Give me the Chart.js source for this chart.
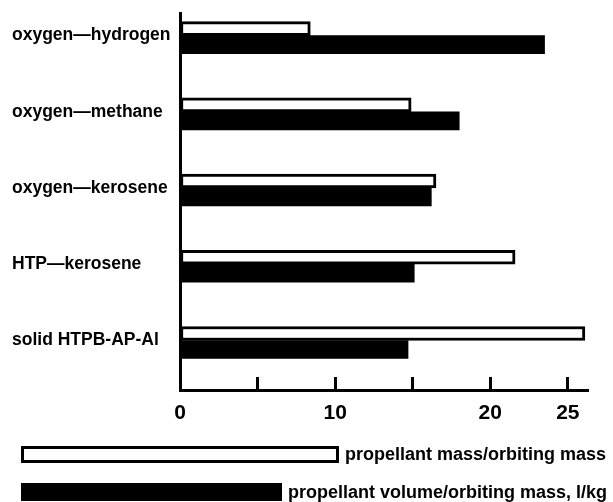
<!DOCTYPE html>
<html>
<head>
<meta charset="utf-8">
<script src="https://cdn.jsdelivr.net/npm/chart.js@4"></script>
<style>
  html, body { margin: 0; padding: 0; background: #fff; }
  #wrap { position: relative; width: 613px; height: 502px; }
  #chart { position: absolute; left: 0; top: 0; }
  .legend-item {
    position: absolute;
    display: flex;
    align-items: center;
    font: bold 18px "Liberation Sans", Arial, sans-serif;
    color: #000;
    white-space: nowrap;
  }
  .legend-box { box-sizing: border-box; border: 3px solid #000; margin-right: 6px; }
</style>
</head>
<body>
<div id="wrap">
  <canvas id="chart" width="613" height="502"></canvas>
  <div id="legend"></div>
</div>
<script>
const categories = [
  "oxygen\u2014hydrogen",
  "oxygen\u2014methane",
  "oxygen\u2014kerosene",
  "HTP\u2014kerosene",
  "solid HTPB-AP-Al"
];
const massRatio = [8.4, 14.9, 16.5, 21.6, 26.1];
const volumeRatio = [23.5, 18.0, 16.2, 15.1, 14.7];
const xTickLabels = ["0", "10", "20", "25"];
const seriesNames = ["propellant mass/orbiting mass", "propellant volume/orbiting mass, l/kg"];

const FONT = '"Liberation Sans", Arial, sans-serif';

const chart = new Chart(document.getElementById("chart"), {
  type: "bar",
  data: {
    datasets: [
      {
        label: seriesNames[0],
        data: massRatio.map((v, i) => ({ x: v, y: i })),
        backgroundColor: "#fff",
        borderColor: "#000",
        borderWidth: 3,
        borderSkipped: false,
        barThickness: 14
      },
      {
        label: seriesNames[1],
        data: volumeRatio.map((v, i) => ({ x: v, y: i })),
        backgroundColor: "#000",
        borderWidth: 0,
        barThickness: 18
      }
    ]
  },
  options: {
    indexAxis: "y",
    responsive: false,
    animation: false,
    layout: { padding: { left: 12, top: 12, right: 25, bottom: 72 } },
    plugins: { legend: { display: false }, tooltip: { enabled: false } },
    scales: {
      x: {
        type: "linear",
        position: "bottom",
        min: 0,
        max: 26.3,
        border: { color: "#000", width: 3 },
        grid: {
          drawOnChartArea: false,
          color: "#000",
          tickColor: "#000",
          tickLength: -13,
          tickWidth: 3
        },
        ticks: {
          stepSize: 5,
          includeBounds: false,
          autoSkip: false,
          maxRotation: 0,
          padding: 24,
          color: "#000",
          font: { family: FONT, size: 21, weight: "bold" },
          callback: (v) => (xTickLabels.includes(String(v)) ? String(v) : "")
        },
        afterFit: (s) => { s.height = 40; }
      },
      y: {
        type: "linear",
        offset: false,
        min: -0.29,
        max: 4.65,
        reverse: true,
        grid: { display: false },
        border: { color: "#000", width: 3 },
        afterBuildTicks: (s) => { s.ticks = categories.map((c, i) => ({ value: i })); },
        ticks: {
          autoSkip: false,
          crossAlign: "far",
          color: "#000",
          font: { family: FONT, size: 17.5, weight: "bold" },
          callback: (v) => categories[v] ?? ""
        },
        afterFit: (s) => { s.width = 168; }
      }
    }
  }
});

// legend swatches drawn as html under the plot
const legendLayout = [
  { left: 21, top: 446, width: 318, height: 17 },
  { left: 21, top: 483, width: 261, height: 18 }
];
const legendEl = document.getElementById("legend");
chart.data.datasets.forEach((ds, i) => {
  const pos = legendLayout[i];
  const item = document.createElement("div");
  item.className = "legend-item";
  item.style.left = pos.left + "px";
  item.style.top = pos.top + "px";
  item.style.height = pos.height + "px";
  const box = document.createElement("span");
  box.className = "legend-box";
  box.style.width = pos.width + "px";
  box.style.height = pos.height + "px";
  box.style.background = ds.backgroundColor;
  const text = document.createElement("span");
  text.textContent = ds.label;
  item.appendChild(box);
  item.appendChild(text);
  legendEl.appendChild(item);
});
</script>
</body>
</html>
